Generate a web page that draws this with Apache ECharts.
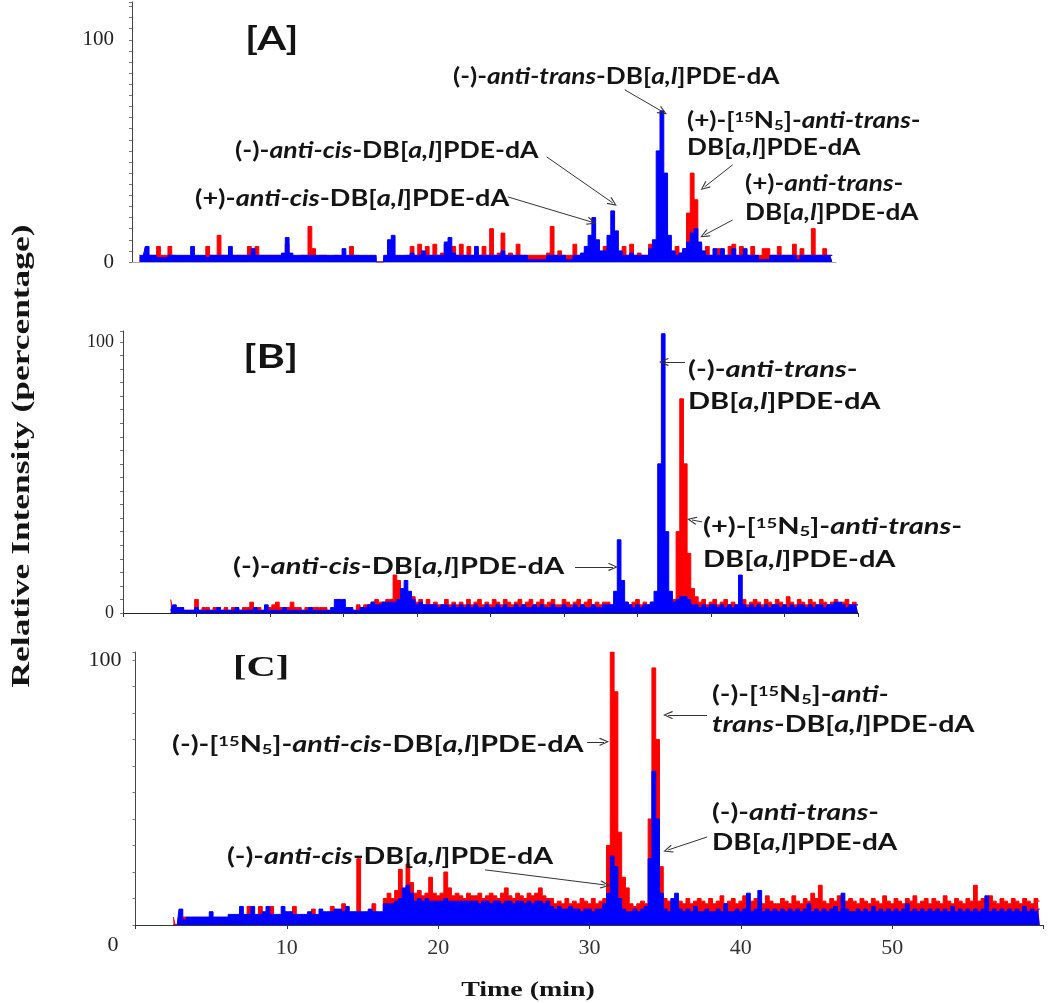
<!DOCTYPE html>
<html>
<head>
<meta charset="utf-8">
<script src="https://cdn.jsdelivr.net/npm/echarts/dist/echarts.min.js"></script>
<style>html,body{margin:0;padding:0;background:#fff;}#c{width:1050px;height:1003px;}</style>
</head>
<body>
<div id="c"></div>
<script>
// ---- sampling: one value every 0.25 min, starting at the given time ----
const STEP = 0.25;
const startA = 0.5, startB = 3.25, startC = 2.5;

// ---- Panel A ----
const blueA = [
 3,3,7,3,3,2,2,2,3,3,3,3,3,3,7,3,3,3,2,3,
 3,3,3,3,7,3,3,3,3,3,6,3,3,3,3,3,3,3,4,11,
 4,3,3,3,3,3,3,3,3,3,3,3,3,3,6,3,3,3,3,3,
 3,3,3,0,0,3,10,12,3,3,3,3,4,3,3,5,3,3,3,3,
 3,9,11,4,3,3,3,3,3,7,3,3,3,3,3,3,5,3,3,3,
 3,3,3,1,1,1,1,1,3,3,3,3,3,1,1,3,3,4,7,12,
 20,10,5,5,12,23,14,5,3,3,4,3,3,3,3,6,10,50,68,40,
 12,5,3,4,6,9,13,15,9,5,3,3,6,3,6,3,3,6,3,3,
 6,3,3,3,1,1,1,3,3,3,3,3,3,3,1,3,3,3,3,3,
 3,3,3,3
];
const redA = [
 2,2,2,3,3,7,3,3,7,3,2,2,2,2,2,2,2,2,7,3,
 3,12,3,3,3,3,3,3,3,7,3,7,3,3,3,3,3,3,3,8,
 3,2,2,3,3,16,6,2,3,3,2,2,3,2,2,2,7,3,2,2,
 2,2,2,0,0,2,3,3,2,2,2,3,7,3,8,3,7,3,8,3,
 4,8,3,7,3,8,3,7,3,5,3,7,3,15,3,4,13,3,4,3,
 8,3,3,3,3,3,3,3,4,16,3,5,3,3,3,8,3,3,5,3,
 3,3,3,7,3,3,3,3,7,3,8,3,4,3,3,8,4,5,5,4,
 3,3,7,4,6,22,40,28,8,3,7,3,3,6,3,3,7,8,3,7,
 3,3,7,3,3,6,6,3,3,7,3,3,3,8,3,6,3,3,15,3,
 3,6,3,3
];

// ---- Panel B ----
const blueB = [
 1,3,2,2,1,1,1,2,1,1,1,1,1,2,1,1,1,1,2,1,
 1,1,1,2,1,1,3,1,1,1,1,2,1,1,1,1,1,1,2,1,
 1,1,1,1,2,5,5,5,2,2,1,1,2,2,3,4,3,3,4,4,
 4,4,5,9,12,8,5,3,4,3,3,3,3,2,3,3,2,3,2,3,
 2,3,2,3,2,2,3,2,2,3,2,3,2,2,3,2,3,2,2,3,
 2,3,2,2,3,2,2,3,2,2,3,2,3,2,2,3,2,2,3,3,
 3,8,27,12,4,3,2,3,2,3,3,4,8,55,103,30,8,4,5,6,
 6,5,3,3,2,3,2,3,3,2,3,2,3,2,3,14,3,2,3,2,
 3,2,3,2,3,3,2,3,2,3,2,3,3,2,3,2,3,3,2,3,
 3,4,4,3,2,3,3,3
];
const redB = [
 5,1,1,2,1,1,1,5,1,2,2,1,2,2,1,2,1,2,2,1,
 2,2,4,2,2,1,2,2,3,4,2,2,2,4,2,2,1,2,2,2,
 2,2,2,1,1,1,1,1,1,2,1,3,2,3,3,4,5,4,4,5,
 5,14,12,6,4,5,6,4,5,3,5,3,4,3,3,5,3,4,3,4,
 3,5,3,4,5,3,4,3,5,4,3,5,4,3,4,5,3,4,5,3,
 4,5,3,4,5,3,3,5,4,3,4,5,3,4,5,3,4,3,4,4,
 3,4,3,2,4,3,4,5,3,4,3,4,3,4,5,3,4,5,30,79,
 55,22,9,6,4,5,3,4,5,3,4,5,3,4,3,4,5,3,4,5,
 4,3,5,4,3,5,4,3,6,4,3,5,4,3,5,4,3,5,4,3,
 4,5,3,4,5,3,4,3
];

// ---- Panel C ----
const blueC = [
 0,0,6,2,3,3,3,3,3,3,5,3,3,3,3,4,4,4,7,4,
 4,7,4,4,5,7,4,4,4,7,5,5,4,4,4,4,5,4,4,6,
 5,5,5,6,6,5,7,5,5,5,5,5,6,5,5,5,8,8,8,9,
 10,14,15,12,9,10,9,10,9,9,9,9,10,9,9,9,9,9,9,9,
 9,8,9,9,8,9,9,8,9,9,8,9,9,8,9,8,9,9,8,9,
 7,6,7,6,6,7,6,6,5,6,6,5,6,6,8,12,26,22,10,6,
 5,5,6,5,6,7,25,58,40,12,6,5,10,12,6,5,6,5,7,5,
 5,6,5,5,6,5,8,5,5,6,5,6,12,5,6,13,5,6,5,6,
 5,6,5,6,5,6,5,6,8,5,6,5,6,5,6,7,5,12,6,5,
 5,6,5,6,5,7,5,6,5,6,5,6,5,6,8,5,6,5,6,5,
 6,5,6,5,6,5,7,5,6,5,6,5,6,5,6,11,5,6,5,6,
 5,6,5,6,5,7,5,6,5,6
];
const redC = [
 3,0,0,3,2,2,2,2,2,2,2,2,2,2,2,2,3,3,4,3,
 7,3,3,7,3,3,7,3,3,4,3,3,7,3,3,3,3,6,3,3,
 3,3,7,3,3,8,3,3,3,25,3,3,3,8,3,3,10,12,10,13,
 21,13,23,16,12,13,11,12,18,12,11,12,20,14,11,12,11,10,12,11,
 11,12,10,11,12,11,10,12,14,11,10,12,11,10,12,11,12,14,11,10,
 10,8,9,8,10,8,9,8,10,9,8,10,8,9,10,30,103,88,35,18,
 14,8,7,8,9,8,40,97,70,22,10,9,8,10,9,8,10,8,9,10,
 9,8,10,8,9,11,8,9,10,8,9,11,8,9,10,9,8,11,9,8,
 8,10,9,8,11,9,8,10,9,12,10,15,9,8,10,9,11,8,9,10,
 9,8,10,9,8,10,9,8,11,9,8,10,9,8,10,9,11,8,9,10,
 8,10,9,8,11,9,8,10,9,8,10,9,15,9,10,8,11,9,8,10,
 9,8,10,9,8,10,9,8,10,9
];

// ---- axis tick labels ----
const yTickLabelsAB = [0, 100];
const yTickLabelsC = [100];
const xTickLabelsC = [10, 20, 30, 40, 50];
const originLabelC = '0';

// ---- arrows: [fromTime, fromValue, toTime, toValue] ----
const arrowsA = [[32.54,77.5,35.05,67.6],[27.39,47.3,31.75,26.6],[24.82,29.3,30.36,18.0],[39.67,43.7,37.82,33.8],[39.67,18.9,37.82,12.2]];
const arrowsB = [[38.23,92.6,36.80,92.6],[39.39,33.6,38.71,34.3],[30.75,17.0,33.33,17.0]];
const arrowsC = [[29.84,69.1,30.96,69.1],[23.10,20.8,31.03,15.1],[37.77,79.2,35.19,79.2],[37.77,33.2,35.19,28.3]];

const RED = '#ff0000', BLUE = '#0000ff';
function pts(t0, arr) { return arr.map((v, i) => [+(t0 + i * STEP).toFixed(2), v]); }
const ARROW = 'path://M5,0 L10,9 L9,10 L5,2.5 L1,10 L0,9 Z';
function marks(list) {
  return {
    silent: true, animation: false, symbol: ['none', ARROW], symbolSize: [8, 10],
    lineStyle: { color: '#333', width: 1, type: 'solid' }, label: { show: false },
    emphasis: { disabled: true },
    data: list.map(a => [{ coord: [a[0], a[1]] }, { coord: [a[2], a[3]] }])
  };
}
function trace(color, idx, data, z, ml) {
  const s = {
    type: 'line', xAxisIndex: idx, yAxisIndex: idx, data: data, step: 'middle',
    symbol: 'none', showSymbol: false, silent: true, z: z,
    lineStyle: { color: color, width: 1 }, areaStyle: { color: color, opacity: 1 },
    itemStyle: { color: color }
  };
  if (ml) s.markLine = ml;
  return s;
}

const chart = echarts.init(document.getElementById('c'), null, { renderer: 'canvas' });

function yAxis(idx, max, interval, fs, margin, labels) {
  return {
    gridIndex: idx, type: 'value', min: 0, max: max, interval: interval,
    axisLine: { show: true, lineStyle: { color: '#444', width: 1 } },
    axisTick: { show: true, length: 3, lineStyle: { color: '#777' } },
    minorTick: { show: false },
    splitLine: { show: false },
    axisLabel: {
      formatter: v => (labels.indexOf(v) >= 0 ? String(v) : ''),
      fontFamily: 'Liberation Serif', fontSize: fs, color: '#222', margin: margin
    }
  };
}

const F = 'Lato';
const TXT = '#141414';
function rich(fs) {
  return {
    i: { fontFamily: F, fontWeight: 'bold', fontStyle: 'italic', fontSize: fs, fill: TXT },
    sp: { fontFamily: F, fontWeight: 'bold', fontSize: Math.round(fs * 0.62), fill: TXT, verticalAlign: 'top' },
    sb: { fontFamily: F, fontWeight: 'bold', fontSize: Math.round(fs * 0.62), fill: TXT, verticalAlign: 'bottom' }
  };
}
function note(x, y, text, fs, sx) {
  return {
    type: 'text', x: x, y: y, scaleX: sx || 1, silent: true, z: 50,
    style: { text: text, fontFamily: F, fontWeight: 'bold', fontSize: fs, fill: TXT,
      align: 'left', verticalAlign: 'middle', rich: rich(fs) }
  };
}
function plain(x, y, text, family, size, bold, sx, extra) {
  const o = { type: 'text', x: x, y: y, scaleX: sx || 1, silent: true, z: 50,
    style: { text: text, fontFamily: family, fontWeight: bold ? 'bold' : 'normal', fontSize: size, fill: TXT,
      align: 'left', verticalAlign: 'middle' } };
  if (extra) Object.assign(o, extra.el || {}), Object.assign(o.style, extra.style || {});
  return o;
}
const DB = 'DB[{i|a,l}]PDE-dA';
const fs = 22;
const sA = 1.19, sB = 1.32, sC = 1.3;
const graphics = [
  note(453, 77, '(-)-{i|anti-trans}-' + DB, fs, sA),
  note(687, 121, '(+)-[{sp|15}N{sb|5}]-{i|anti-trans}-', fs, sA),
  note(687, 148, DB, fs, sA),
  note(235, 151, '(-)-{i|anti-cis}-' + DB, fs, 1.21),
  note(195, 199, '(+)-{i|anti-cis}-' + DB, fs, 1.23),
  note(745, 184, '(+)-{i|anti-trans}-', fs, sA),
  note(745, 213, DB, fs, sA),
  note(688, 370, '(-)-{i|anti-trans}-', fs, sB),
  note(688, 402, DB, fs, sB),
  note(703, 527, '(+)-[{sp|15}N{sb|5}]-{i|anti-trans}-', fs, sB),
  note(703, 560, DB, fs, sB),
  note(233, 567, '(-)-{i|anti-cis}-' + DB, fs, sB),
  note(172, 745, '(-)-[{sp|15}N{sb|5}]-{i|anti-cis}-' + DB, fs, 1.31),
  note(227, 857, '(-)-{i|anti-cis}-' + DB, fs, sC),
  note(712, 695, '(-)-[{sp|15}N{sb|5}]-{i|anti-}', fs, sC),
  note(712, 725, '{i|trans}-' + DB, fs, sC),
  note(712, 813, '(-)-{i|anti-trans}-', fs, sC),
  note(712, 843, DB, fs, 1.27),
  plain(245, 40, '[A]', F, 32, true, 1.3),
  plain(243, 358, '[B]', F, 32, true, 1.35),
  plain(233, 668, '[C]', 'Liberation Serif', 30, true, 1.35),
  plain(113, 945, originLabelC, 'Liberation Serif', 22, false, 1, { style: { align: 'center', fill: '#222' } }),
  plain(528, 990, 'Time (min)', 'Liberation Serif', 22, true, 1.27, { style: { align: 'center' } }),
  plain(22, 456, 'Relative Intensity (percentage)', 'Liberation Serif', 26, true, 1.36, { el: { rotation: Math.PI / 2 }, style: { align: 'center' } })
];

chart.setOption({
  animation: false,
  backgroundColor: '#fff',
  grid: [
    { left: 132, top: 2, width: 704, height: 260 },
    { left: 123, top: 331, width: 735, height: 282 },
    { left: 135.5, top: 652, width: 908, height: 273 }
  ],
  xAxis: [
    { gridIndex: 0, type: 'value', min: 0, max: 46.5, axisLine: { show: true, lineStyle: { color: '#aaa' } }, axisTick: { show: false }, axisLabel: { show: false }, splitLine: { show: false } },
    { gridIndex: 1, type: 'value', min: 0, max: 50, interval: 5, axisLine: { show: true, lineStyle: { color: '#222' } }, axisTick: { show: true, length: 4, lineStyle: { color: '#333' } }, axisLabel: { show: false }, splitLine: { show: false } },
    { gridIndex: 2, type: 'value', min: 0, max: 60, interval: 10, axisLine: { show: true, lineStyle: { color: '#2e3b2e' } }, axisTick: { show: true, length: 4, lineStyle: { color: '#333' } },
      axisLabel: { formatter: v => (xTickLabelsC.indexOf(v) >= 0 ? String(v) : ''), fontFamily: 'Liberation Serif', fontSize: 22, color: '#333', margin: 12 }, splitLine: { show: false } }
  ],
  yAxis: [
    yAxis(0, 117, 5, 21, 18, yTickLabelsAB),
    yAxis(1, 104, 5, 18, 9, yTickLabelsAB),
    yAxis(2, 103, 10, 22, 14, yTickLabelsC)
  ],
  series: [
    trace(RED, 0, pts(startA, redA), 2),
    trace(BLUE, 0, pts(startA, blueA), 3, marks(arrowsA)),
    trace(RED, 1, pts(startB, redB), 2),
    trace(BLUE, 1, pts(startB, blueB), 3, marks(arrowsB)),
    trace(RED, 2, pts(startC, redC), 2),
    trace(BLUE, 2, pts(startC, blueC), 3, marks(arrowsC))
  ],
  graphic: graphics
});
</script>
</body>
</html>
